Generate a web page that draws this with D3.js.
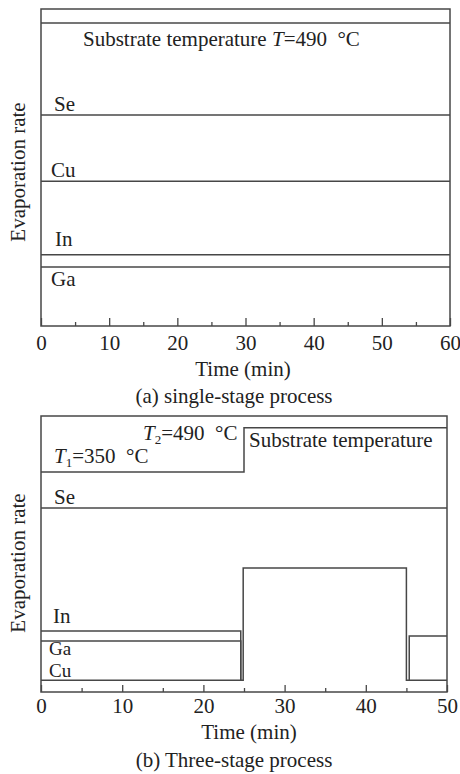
<!DOCTYPE html>
<html>
<head>
    <meta charset="utf-8" />
    <title>Evaporation rate profiles</title>
    <style>
        body { margin: 0; background: #fff; }
        text { font-family: "Liberation Serif", "Times New Roman", Tinos, "DejaVu Serif", serif; }
        .line { fill: none; stroke: #474747; stroke-width: 1.5px; }
        .frame { fill: none; stroke: #474747; stroke-width: 1.5px; }
        .lbl { font-size: 21px; fill: #222; }
        .small { font-size: 19px; }
        .axis text { font-size: 21px; fill: #222; }
        .axis line { stroke: #474747; stroke-width: 1.3px; }
        .axis path { display: none; }
    </style>
    <script src="https://cdnjs.cloudflare.com/ajax/libs/d3/7.8.5/d3.min.js"></script>
</head>
<body>
<script>
    // ---- data: panel (a) single-stage, constant rates (relative units 0-100)
    const timeA = [0, 60];
    const seriesNamesA = ["Substrate", "Se", "Cu", "In", "Ga"];
    const ratesA = [95.6, 66.6, 45.7, 22.5, 18.6];
    const majorTicksA = [0, 10, 20, 30, 40, 50, 60];
    const minorTicksA = [5, 15, 25, 35, 45, 55];

    // ---- data: panel (b) three-stage, step profiles
    const subTimeB = [0, 25, 25, 50];
    const subRateB = [79.7, 79.7, 95.7, 95.7];
    const seTimeB = [0, 50];
    const seRateB = [66.7, 66.7];
    const inTimeB = [0, 24.6, 24.6];
    const inRateB = [22.1, 22.1, 4.3];
    const gaTimeB = [0, 24.6, 24.6];
    const gaRateB = [18.5, 18.5, 4.3];
    const cuTimeB = [0, 24.9, 24.9, 45, 45, 50];
    const cuRateB = [4.3, 4.3, 44.9, 44.9, 4.3, 4.3];
    const stage3TimeB = [45.35, 45.35, 50];
    const stage3RateB = [4.3, 20.3, 20.3];
    const majorTicksB = [0, 10, 20, 30, 40, 50];
    const minorTicksB = [5, 15, 25, 35, 45];

    const width = 460, height = 774;
    const serif = '"Liberation Serif", "Times New Roman", Tinos, serif';

    const svg = d3.select('body').append('svg')
        .attr('width', width)
        .attr('height', height)
        .attr('font-family', serif);

    // ===== panel (a)
    let xa = d3.scaleLinear().domain([0, 60]).range([41, 450]);
    let ya = d3.scaleLinear().domain([0, 100]).range([326, 9]);

    svg.append('rect').attr('class', 'frame')
        .attr('x', xa(0)).attr('y', ya(100))
        .attr('width', xa(60) - xa(0)).attr('height', ya(0) - ya(100));

    let lineA = d3.line().x(d => xa(d[0])).y(d => ya(d[1]));
    ratesA.forEach(function(r) {
        svg.append('path')
            .datum(timeA.map(t => [t, r]))
            .attr('class', 'line')
            .attr('d', lineA);
    });

    // bottom axis, ticks pointing inward
    svg.append('g').attr('class', 'axis')
        .attr('transform', 'translate(0,' + ya(0) + ')')
        .call(d3.axisBottom(xa).tickValues(majorTicksA).tickSizeInner(-8).tickSizeOuter(0).tickPadding(9));
    svg.append('g').attr('class', 'axis')
        .attr('transform', 'translate(0,' + ya(0) + ')')
        .call(d3.axisBottom(xa).tickValues(minorTicksA).tickSizeInner(-4).tickSizeOuter(0).tickFormat(''));
    svg.selectAll('.axis').attr('font-family', serif);

    // labels (a)
    let subA = svg.append('text').attr('class', 'lbl').attr('x', 83).attr('y', 46);
    subA.append('tspan').text('Substrate temperature ');
    subA.append('tspan').attr('font-style', 'italic').text('T');
    subA.append('tspan').text('=490 \u00a0°C');
    svg.append('text').attr('class', 'lbl').attr('x', 54).attr('y', 111).text('Se');
    svg.append('text').attr('class', 'lbl').attr('x', 51).attr('y', 177).text('Cu');
    svg.append('text').attr('class', 'lbl').attr('x', 55).attr('y', 246).text('In');
    svg.append('text').attr('class', 'lbl').attr('x', 51).attr('y', 286).text('Ga');

    svg.append('text').attr('class', 'lbl')
        .attr('transform', 'translate(25,' + 172 + ') rotate(-90)')
        .attr('text-anchor', 'middle').text('Evaporation rate');
    svg.append('text').attr('class', 'lbl').attr('x', 243).attr('y', 376)
        .attr('text-anchor', 'middle').text('Time (min)');
    svg.append('text').attr('class', 'lbl').attr('x', 234).attr('y', 403)
        .attr('text-anchor', 'middle').text('(a) single-stage process');

    // ===== panel (b)
    let xb = d3.scaleLinear().domain([0, 50]).range([41, 447]);
    let yb = d3.scaleLinear().domain([0, 100]).range([692, 416]);

    svg.append('rect').attr('class', 'frame')
        .attr('x', xb(0)).attr('y', yb(100))
        .attr('width', xb(50) - xb(0)).attr('height', yb(0) - yb(100));

    let lineB = d3.line().x(d => xb(d[0])).y(d => yb(d[1]));
    const stepsB = [
        [subTimeB, subRateB],
        [seTimeB, seRateB],
        [inTimeB, inRateB],
        [gaTimeB, gaRateB],
        [cuTimeB, cuRateB],
        [stage3TimeB, stage3RateB]
    ];
    stepsB.forEach(function(s) {
        svg.append('path')
            .datum(s[0].map((t, i) => [t, s[1][i]]))
            .attr('class', 'line')
            .attr('d', lineB);
    });

    svg.append('g').attr('class', 'axis')
        .attr('transform', 'translate(0,' + yb(0) + ')')
        .call(d3.axisBottom(xb).tickValues(majorTicksB).tickSizeInner(-7).tickSizeOuter(0).tickPadding(6));
    svg.append('g').attr('class', 'axis')
        .attr('transform', 'translate(0,' + yb(0) + ')')
        .call(d3.axisBottom(xb).tickValues(minorTicksB).tickSizeInner(-4).tickSizeOuter(0).tickFormat(''));
    svg.selectAll('.axis').attr('font-family', serif);

    // labels (b)
    let t2 = svg.append('text').attr('class', 'lbl').attr('x', 143).attr('y', 440);
    t2.append('tspan').attr('font-style', 'italic').text('T');
    t2.append('tspan').attr('font-size', '13px').attr('dy', 4).text('2');
    t2.append('tspan').attr('dy', -4).text('=490 \u00a0°C');
    let t1 = svg.append('text').attr('class', 'lbl').attr('x', 54).attr('y', 463);
    t1.append('tspan').attr('font-style', 'italic').text('T');
    t1.append('tspan').attr('font-size', '13px').attr('dy', 4).text('1');
    t1.append('tspan').attr('dy', -4).text('=350 \u00a0°C');
    svg.append('text').attr('class', 'lbl').attr('x', 249).attr('y', 447).text('Substrate temperature');
    svg.append('text').attr('class', 'lbl').attr('x', 54).attr('y', 504).text('Se');
    svg.append('text').attr('class', 'lbl').attr('x', 53).attr('y', 623).text('In');
    svg.append('text').attr('class', 'lbl small').attr('x', 49).attr('y', 655).text('Ga');
    svg.append('text').attr('class', 'lbl small').attr('x', 49).attr('y', 677).text('Cu');

    svg.append('text').attr('class', 'lbl')
        .attr('transform', 'translate(25,' + 563 + ') rotate(-90)')
        .attr('text-anchor', 'middle').text('Evaporation rate');
    svg.append('text').attr('class', 'lbl').attr('x', 249).attr('y', 739)
        .attr('text-anchor', 'middle').text('Time (min)');
    svg.append('text').attr('class', 'lbl').attr('x', 234).attr('y', 767)
        .attr('text-anchor', 'middle').text('(b) Three-stage process');
</script>
</body>
</html>
